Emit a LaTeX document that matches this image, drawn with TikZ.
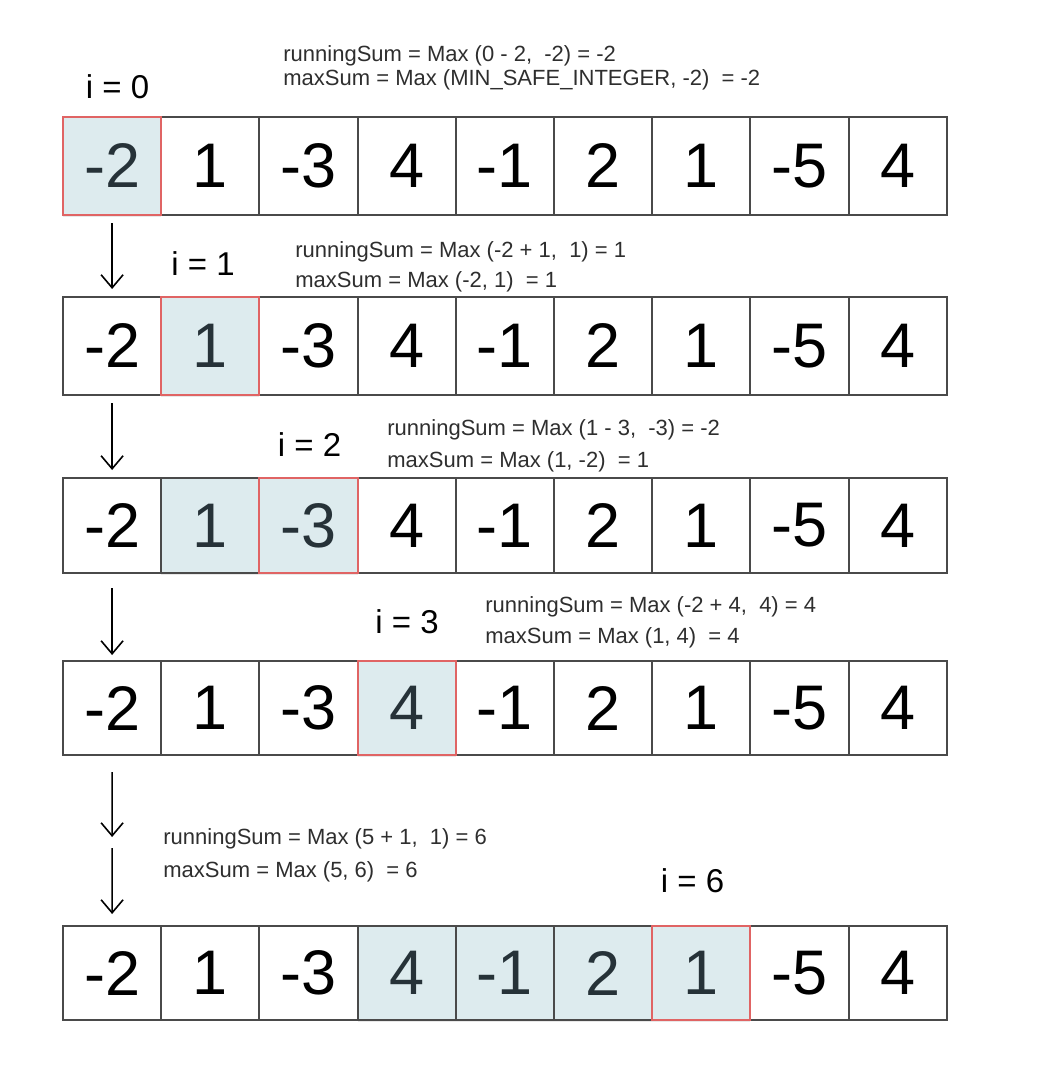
\documentclass[tikz,border=0pt]{standalone}
\usepackage{fontspec}
\setmainfont{Liberation Sans}
\usetikzlibrary{positioning, arrows.meta, shadows}
\definecolor{edgegray}{HTML}{4A4A4A}
\definecolor{seenfill}{HTML}{DDEBEE}
\definecolor{curred}{HTML}{E06464}
\definecolor{seentext}{HTML}{263238}
\definecolor{notetext}{HTML}{2E2E2E}
\tikzset{
	cell/.append style={
		draw=edgegray,
		line width=1pt,
		minimum width=49.1pt,
		inner sep=0pt,
		outer sep=0pt,
		font={\fontsize{31.5}{36}\selectfont}
	},
	seen/.append style={
		cell,
		fill=seenfill,
		text=seentext,
		drop shadow={shadow xshift=0pt, shadow yshift=-1.2pt, opacity=0.18}
	},
	curedge/.append style={
		draw=curred,
		line width=1pt,
	},
	idx/.append style={
		anchor=base,
		inner sep=0pt,
		font={\fontsize{16.5}{19}\selectfont}
	},
	note/.append style={
		anchor=base west,
		inner sep=0pt,
		text=notetext,
		font={\fontsize{11}{13}\selectfont}
	},
	flow/.append style={
		line width=0.8pt,
		-{Straight Barb[length=6.5pt, width=11pt]}
	}
}

\begin{document}
\begin{tikzpicture}[x=0.5pt, y=-0.5pt]
\useasboundingbox (0,0) rectangle (1050,1070);

% one row of cells per step
\foreach \r/\top/\h/\lo/\cur in {1/117/98/1/1, 2/297/98/2/2, 3/478/95/2/3, 4/661/94/4/4, 5/926/94/4/7}{
	\foreach \v [count=\c] in {-2,1,-3,4,-1,2,1,-5,4}{
		\pgfmathsetmacro\cx{63 + (\c - 0.5) * 98.2}
		\pgfmathsetmacro\cy{\top + \h / 2}
		\pgfmathtruncatemacro\hit{and(\c >= \lo, \c <= \cur)}
		\ifnum\hit=1
			\node(r\r c\c)[seen, minimum height=\h*0.5pt] at (\cx,\cy) {\v};
		\else
			\node(r\r c\c)[cell, minimum height=\h*0.5pt] at (\cx,\cy) {\v};
		\fi
	}
	\draw[curedge] (r\r c\cur.south west) rectangle (r\r c\cur.north east);
}

\node(i0)[idx] at (117.5,98) {i = 0};
\node(i1)[idx] at (203,275) {i = 1};
\node(i2)[idx] at (309.5,456) {i = 2};
\node(i3)[idx] at (407,633) {i = 3};
\node(i6)[idx] at (692.5,892) {i = 6};

\node(run1)[note] at (283,62) {runningSum = Max (0 - 2,~ -2) = -2};
\node(max1)[note] at (283,86) {maxSum = Max (MIN\_SAFE\_INTEGER, -2)~ = -2};
\node(run2)[note] at (295,257) {runningSum = Max (-2 + 1,~ 1) = 1};
\node(max2)[note] at (295,287) {maxSum = Max (-2, 1)~ = 1};
\node(run3)[note] at (387,435) {runningSum = Max (1 - 3,~ -3) = -2};
\node(max3)[note] at (387,467) {maxSum = Max (1, -2)~ = 1};
\node(run4)[note] at (485,612) {runningSum = Max (-2 + 4,~ 4) = 4};
\node(max4)[note] at (485,643) {maxSum = Max (1, 4)~ = 4};
\node(run5)[note] at (163,844) {runningSum = Max (5 + 1,~ 1) = 6};
\node(max5)[note] at (163,877) {maxSum = Max (5, 6)~ = 6};

\draw[flow, shorten <=4pt, shorten >=4pt] (r1c1) -- (r2c1);
\draw[flow, shorten <=4pt, shorten >=4pt] (r2c1) -- (r3c1);
\draw[flow, shorten <=7.5pt, shorten >=3pt] (r3c1) -- (r4c1);
\coordinate(gap) at (112.1,842);
\draw[flow, shorten <=8.5pt, shorten >=2.5pt] (r4c1) -- (gap);
\draw[flow, shorten <=3pt, shorten >=6pt] (gap) -- (r5c1);

\end{tikzpicture}
\end{document}
